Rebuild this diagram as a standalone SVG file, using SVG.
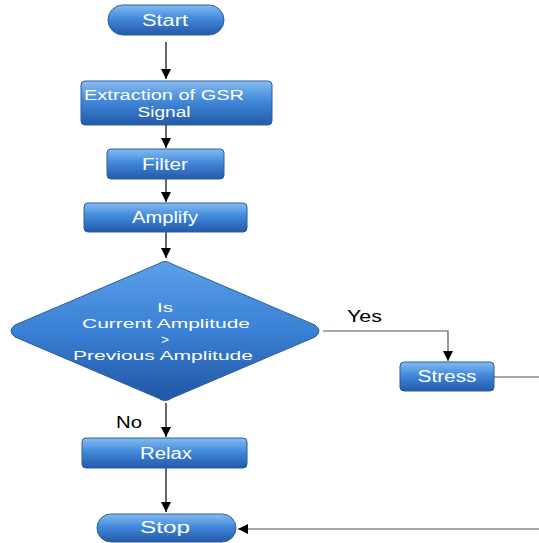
<svg xmlns="http://www.w3.org/2000/svg" width="539" height="543" viewBox="0 0 539 543">
<defs>
<linearGradient id="g" x1="0" y1="0" x2="0" y2="1">
<stop offset="0" stop-color="#86bcf0"/>
<stop offset="0.45" stop-color="#4289db"/>
<stop offset="1" stop-color="#2459a8"/>
</linearGradient>
<linearGradient id="gd" x1="0" y1="0" x2="0" y2="1">
<stop offset="0" stop-color="#5aa0ea"/>
<stop offset="0.5" stop-color="#3a80d4"/>
<stop offset="1" stop-color="#2156a6"/>
</linearGradient>
<marker id="a" viewBox="0 0 10 10" refX="10" refY="5" markerWidth="10" markerHeight="10" markerUnits="userSpaceOnUse" orient="auto">
<path d="M0,0 L10,5 L0,10 z" fill="#000"/>
</marker>
</defs>
<style>
.n{fill:url(#g);stroke:#2a5d9f;stroke-width:1}
.t{font-family:"Liberation Sans",Arial,sans-serif;font-size:16px;fill:#fff;text-anchor:middle}
.m{font-size:14px}
.d{font-size:13.5px}
.l{font-family:"Liberation Sans",Arial,sans-serif;font-size:16px;fill:#000}
.c{fill:none;stroke:#000;stroke-width:1.2}
.c2{fill:none;stroke:#555;stroke-width:1.2}
</style>
<g id="connectors">
<line class="c" x1="166" y1="42" x2="166" y2="79" marker-end="url(#a)"/>
<line class="c" x1="166" y1="125" x2="166" y2="148" marker-end="url(#a)"/>
<line class="c" x1="166" y1="179" x2="166" y2="202" marker-end="url(#a)"/>
<line class="c" x1="166" y1="232" x2="166" y2="258" marker-end="url(#a)"/>
<polyline class="c2" points="323,331 448,331 448,361" marker-end="url(#a)"/>
<line class="c" x1="166" y1="403" x2="166" y2="437" marker-end="url(#a)"/>
<line class="c" x1="166" y1="468" x2="166" y2="512" marker-end="url(#a)"/>
<line class="c2" x1="494" y1="377" x2="539" y2="377"/>
<line class="c2" x1="539" y1="529" x2="238" y2="529" marker-end="url(#a)"/>
<text class="l" x="347" y="322" textLength="35" lengthAdjust="spacingAndGlyphs">Yes</text>
<text class="l" x="116" y="428" textLength="26" lengthAdjust="spacingAndGlyphs">No</text>
</g>
<g id="start">
<rect class="n" x="108" y="5" width="116" height="30" rx="15"/>
<text class="t" x="165" y="26" textLength="46" lengthAdjust="spacingAndGlyphs">Start</text>
</g>
<g id="extraction">
<rect class="n" x="81" y="81" width="191" height="44" rx="4"/>
<text class="t m" x="164" y="100" textLength="160" lengthAdjust="spacingAndGlyphs">Extraction of GSR</text>
<text class="t m" x="164" y="117" textLength="53" lengthAdjust="spacingAndGlyphs">Signal</text>
</g>
<g id="filter">
<rect class="n" x="107" y="149" width="117" height="30" rx="4"/>
<text class="t" x="165" y="170" textLength="46" lengthAdjust="spacingAndGlyphs">Filter</text>
</g>
<g id="amplify">
<rect class="n" x="84" y="203" width="163" height="29" rx="4"/>
<text class="t" x="165" y="223" textLength="66" lengthAdjust="spacingAndGlyphs">Amplify</text>
</g>
<g id="decision">
<path d="M158,264 Q165,259 172,264 L315,325 Q323,331 315,337 L172,398 Q165,403 158,398 L15,337 Q7,331 15,325 Z" fill="url(#gd)" stroke="#2a5d9f"/>
<text class="t d" x="165" y="312" textLength="16" lengthAdjust="spacingAndGlyphs">Is</text>
<text class="t d" x="166" y="328" textLength="168" lengthAdjust="spacingAndGlyphs">Current Amplitude</text>
<text class="t d" x="165" y="344">&gt;</text>
<text class="t d" x="163" y="360" textLength="180" lengthAdjust="spacingAndGlyphs">Previous Amplitude</text>
</g>
<g id="stress">
<rect class="n" x="400" y="362" width="94" height="29" rx="4"/>
<text class="t" x="447" y="382" textLength="59" lengthAdjust="spacingAndGlyphs">Stress</text>
</g>
<g id="relax">
<rect class="n" x="82" y="438" width="165" height="30" rx="4"/>
<text class="t" x="166" y="459" textLength="52" lengthAdjust="spacingAndGlyphs">Relax</text>
</g>
<g id="stop">
<rect class="n" x="97" y="514" width="139" height="28" rx="14"/>
<text class="t" x="165" y="533" textLength="50" lengthAdjust="spacingAndGlyphs">Stop</text>
</g>
</svg>
